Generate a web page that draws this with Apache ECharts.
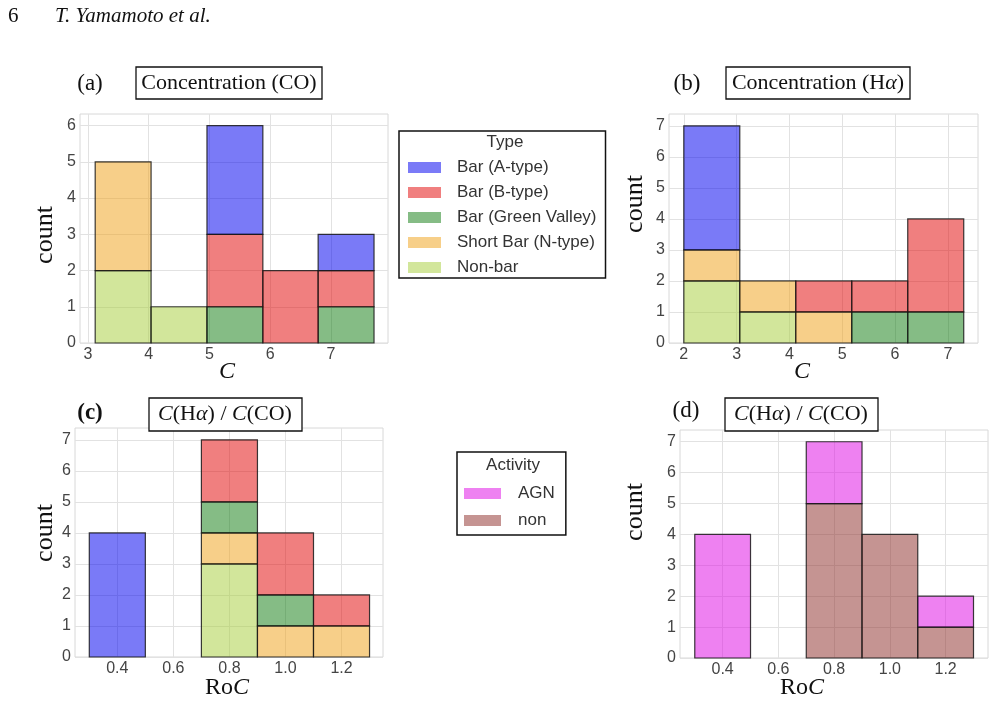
<!DOCTYPE html>
<html><head><meta charset="utf-8">
<script src="https://cdn.jsdelivr.net/npm/echarts@6/dist/echarts.min.js"></script>
<style>html,body{margin:0;padding:0;background:#fff}#chart{width:995px;height:704px}</style>
</head><body><div id="chart"></div>
<script>
// ---------- data ----------
const typeNames = ['Bar (A-type)', 'Bar (B-type)', 'Bar (Green Valley)', 'Short Bar (N-type)', 'Non-bar'];
const activityNames = ['AGN', 'non'];

// (a) Concentration (CO)
const edgesA = [3.12, 4.04, 4.96, 5.88, 6.79, 7.71];
const a_BarA = [0, 0, 3, 0, 1];
const a_BarB = [0, 0, 2, 2, 1];
const a_GV = [0, 0, 1, 0, 1];
const a_NType = [3, 0, 0, 0, 0];
const a_NonBar = [2, 1, 0, 0, 0];
const ticksA = [3, 4, 5, 6, 7];

// (b) Concentration (Halpha)
const edgesB = [2.0, 3.06, 4.12, 5.18, 6.24, 7.30];
const b_BarA = [4, 0, 0, 0, 0];
const b_BarB = [0, 0, 1, 1, 3];
const b_GV = [0, 0, 0, 1, 1];
const b_NType = [1, 1, 1, 0, 0];
const b_NonBar = [2, 1, 0, 0, 0];
const ticksB = [2, 3, 4, 5, 6, 7];

// (c) RoC by type
const edgesC = [0.3, 0.5, 0.7, 0.9, 1.1, 1.3];
const c_BarA = [4, 0, 0, 0, 0];
const c_BarB = [0, 0, 2, 2, 1];
const c_GV = [0, 0, 1, 1, 0];
const c_NType = [0, 0, 1, 1, 1];
const c_NonBar = [0, 0, 3, 0, 0];
const ticksC = [0.4, 0.6, 0.8, 1.0, 1.2];

// (d) RoC by activity
const edgesD = [0.3, 0.5, 0.7, 0.9, 1.1, 1.3];
const d_AGN = [4, 0, 2, 0, 1];
const d_non = [0, 0, 5, 4, 1];
const ticksD = [0.4, 0.6, 0.8, 1.0, 1.2];

const countTicks6 = [0, 1, 2, 3, 4, 5, 6];
const countTicks7 = [0, 1, 2, 3, 4, 5, 6, 7];

// ---------- styles ----------
const colors = {
  'Bar (A-type)': 'rgba(0,0,240,0.52)',
  'Bar (B-type)': 'rgba(225,0,0,0.5)',
  'Bar (Green Valley)': 'rgba(0,115,0,0.48)',
  'Short Bar (N-type)': 'rgba(240,160,20,0.5)',
  'Non-bar': 'rgba(165,205,55,0.5)',
  'AGN': 'rgba(222,3,228,0.5)',
  'non': 'rgba(140,42,38,0.5)'
};
const SANS = '"Liberation Sans", Arial, sans-serif';
const SERIF = '"Liberation Serif", "Times New Roman", serif';

function renderBin(params, api) {
  const p0 = api.coord([api.value(0), api.value(3)]);
  const p1 = api.coord([api.value(1), api.value(2)]);
  return {
    type: 'rect',
    shape: { x: p0[0], y: p0[1], width: p1[0] - p0[0], height: p1[1] - p0[1] },
    style: { fill: api.visual('color'), stroke: 'rgba(25,25,25,0.85)', lineWidth: 1.2 }
  };
}

// stacked series builder: stack list is bottom -> top
function stackSeries(gridIdx, edges, stack) {
  const base = edges.slice(0, -1).map(() => 0);
  const out = [];
  stack.forEach(([name, counts]) => {
    const data = [];
    counts.forEach((c, i) => {
      if (c > 0) data.push([edges[i], edges[i + 1], base[i], base[i] + c]);
      base[i] += c;
    });
    out.push({
      type: 'custom', name: name, xAxisIndex: gridIdx, yAxisIndex: gridIdx,
      itemStyle: { color: colors[name] },
      encode: { x: [0, 1], y: [2, 3] },
      renderItem: renderBin, data: data, z: 3
    });
  });
  return out;
}

const series = [].concat(
  stackSeries(0, edgesA, [['Non-bar', a_NonBar], ['Short Bar (N-type)', a_NType], ['Bar (Green Valley)', a_GV], ['Bar (B-type)', a_BarB], ['Bar (A-type)', a_BarA]]),
  stackSeries(1, edgesB, [['Non-bar', b_NonBar], ['Short Bar (N-type)', b_NType], ['Bar (Green Valley)', b_GV], ['Bar (B-type)', b_BarB], ['Bar (A-type)', b_BarA]]),
  stackSeries(2, edgesC, [['Non-bar', c_NonBar], ['Short Bar (N-type)', c_NType], ['Bar (Green Valley)', c_GV], ['Bar (B-type)', c_BarB], ['Bar (A-type)', c_BarA]]),
  stackSeries(3, edgesD, [['non', d_non], ['AGN', d_AGN]])
);

const grids = [
  { left: 80, top: 114, width: 308, height: 229 },
  { left: 669, top: 114, width: 309, height: 229 },
  { left: 75, top: 428, width: 308, height: 229 },
  { left: 680, top: 430, width: 308, height: 228 }
].map(g => Object.assign({ show: true, borderColor: '#d8d8d8', borderWidth: 1, backgroundColor: '#fff' }, g));

const splitLine = { show: true, lineStyle: { color: '#e2e2e2', width: 1 } };
function xAx(idx, min, max, ticks, dec) {
  return {
    type: 'value', gridIndex: idx, min: min, max: max,
    axisLine: { show: false }, axisTick: { show: false, customValues: ticks },
    axisLabel: { customValues: ticks, formatter: v => Number(v).toFixed(dec), color: '#444', fontSize: 16, fontFamily: SANS, margin: 4 },
    splitLine: splitLine
  };
}
function yAx(idx, max, ticks) {
  return {
    type: 'value', gridIndex: idx, min: 0, max: max,
    axisLine: { show: false }, axisTick: { show: false, customValues: ticks },
    axisLabel: { customValues: ticks, formatter: v => String(Math.round(v)), color: '#444', fontSize: 16, fontFamily: SANS, margin: 4 },
    splitLine: splitLine
  };
}

function txt(x, y, text, font, opts) {
  return Object.assign({
    type: 'text', x: x, y: y, z: 110,
    style: Object.assign({ text: text, font: font, fill: '#111', textAlign: 'center', textVerticalAlign: 'middle' }, opts || {})
  });
}
function box(x0, y0, x1, y1) {
  return { type: 'rect', z: 100, shape: { x: x0, y: y0, width: x1 - x0, height: y1 - y0 },
    style: { fill: '#fff', stroke: '#111', lineWidth: 1.3 } };
}
const italicRich = { i: { fontStyle: 'italic', fontFamily: SERIF, fontSize: 22, fill: '#111' }, n: { fontFamily: SERIF, fontSize: 22, fill: '#111' } };
const italicRich24 = { i: { fontStyle: 'italic', fontFamily: SERIF, fontSize: 24, fill: '#111' }, n: { fontFamily: SERIF, fontSize: 24, fill: '#111' } };

function countLabel(x, y) {
  const t = txt(x, y, 'count', '26px ' + SERIF);
  t.rotation = Math.PI / 2;
  return t;
}

const graphic = [
  // header
  txt(8, 16, '6', '21px ' + SERIF, { textAlign: 'left' }),
  txt(55, 16, 'T. Yamamoto et al.', 'italic 21px ' + SERIF, { textAlign: 'left' }),
  // (a)
  txt(90, 84, '(a)', '23px ' + SERIF),
  box(136, 67, 322, 99),
  txt(229, 83, 'Concentration (CO)', '22px ' + SERIF),
  countLabel(45, 235),
  txt(227, 372, 'C', 'italic 24px ' + SERIF),
  // (b)
  txt(687, 84, '(b)', '23px ' + SERIF),
  box(726, 67, 910, 99),
  txt(818, 83, '{n|Concentration (H}{i|α}{n|)}', '22px ' + SERIF, { rich: italicRich }),
  countLabel(635, 204),
  txt(802, 372, 'C', 'italic 24px ' + SERIF),
  // (c)
  txt(90, 413, '(c)', 'bold 23px ' + SERIF),
  box(149, 398, 302, 431),
  txt(225, 414.5, '{i|C}{n|(H}{i|α}{n|) / }{i|C}{n|(CO)}', '22px ' + SERIF, { rich: italicRich }),
  countLabel(45, 533),
  txt(227, 688, '{n|Ro}{i|C}', '24px ' + SERIF, { rich: italicRich24 }),
  // (d)
  txt(686, 411, '(d)', '23px ' + SERIF),
  box(725, 398, 878, 431),
  txt(801, 414.5, '{i|C}{n|(H}{i|α}{n|) / }{i|C}{n|(CO)}', '22px ' + SERIF, { rich: italicRich }),
  countLabel(635, 512),
  txt(802, 688, '{n|Ro}{i|C}', '24px ' + SERIF, { rich: italicRich24 }),
  // legend titles
  txt(505, 142, 'Type', '17px ' + SANS, { fill: '#333' }),
  txt(513, 465, 'Activity', '17px ' + SANS, { fill: '#333' })
];

const legendCommon = {
  orient: 'vertical', icon: 'rect', selectedMode: false,
  borderColor: '#111', borderWidth: 1.5, backgroundColor: '#fff', borderRadius: 0
};
const legend = [
  Object.assign({}, legendCommon, {
    data: typeNames, left: 399, top: 131, itemWidth: 33, itemHeight: 11, itemGap: 8,
    padding: [28, 9, 2, 9],
    textStyle: { fontSize: 17, fontFamily: SANS, color: '#333', padding: [0, 0, 0, 11] }
  }),
  Object.assign({}, legendCommon, {
    data: activityNames, left: 457, top: 452, itemWidth: 37, itemHeight: 11, itemGap: 10,
    padding: [33, 11, 6, 7],
    textStyle: { fontSize: 17, fontFamily: SANS, color: '#333', padding: [0, 0, 0, 12] }
  })
];

const option = {
  animation: false,
  backgroundColor: '#fff',
  grid: grids,
  xAxis: [xAx(0, 2.87, 7.94, ticksA, 0), xAx(1, 1.72, 7.57, ticksB, 0), xAx(2, 0.249, 1.348, ticksC, 1), xAx(3, 0.247, 1.352, ticksD, 1)],
  yAxis: [yAx(0, 6.32, countTicks6), yAx(1, 7.38, countTicks7), yAx(2, 7.38, countTicks7), yAx(3, 7.38, countTicks7)],
  legend: legend,
  series: series,
  graphic: graphic
};

const chart = echarts.init(document.getElementById('chart'), null, { renderer: 'canvas' });
chart.setOption(option);
</script>
</body></html>
